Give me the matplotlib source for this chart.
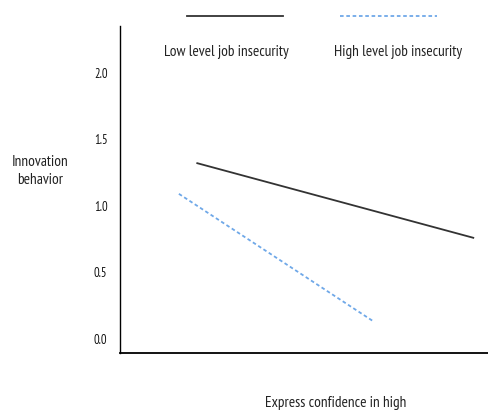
import matplotlib
matplotlib.use("Agg")
import matplotlib.pyplot as plt
from matplotlib.lines import Line2D

plt.rcParams['font.family'] = ['PT Sans Narrow', 'DejaVu Sans']

series_names = ["Low level job insecurity", "High level job insecurity"]
low_x = [0.21, 0.96]
low_y = [1.32, 0.76]
high_x = [0.16, 0.69]
high_y = [1.09, 0.13]
yticks = [0.0, 0.5, 1.0, 1.5, 2.0]
ytick_labels = ["0.0", "0.5", "1.0", "1.5", "2.0"]

fig = plt.figure(figsize=(4.88, 4.13), dpi=100)
ax = fig.add_axes([120/488, 1-353/413, 1-120/488, (353-26)/413])
ax.plot(low_x, low_y, color="#333333", lw=1.3)
ax.plot(high_x, high_y, color="#6fa8e8", lw=1.3, ls=(0, (2, 1.5)))
ax.set_xlim(0, 1)
ax.set_ylim(-0.105, 2.35)
ax.set_yticks(yticks)
ax.set_yticklabels(ytick_labels, fontsize=9)
ax.tick_params(axis='y', length=0, pad=9, labelcolor="#111111")
ax.set_xticks([])
for s in ["top", "right"]:
    ax.spines[s].set_visible(False)
ax.spines["left"].set_linewidth(1.0)
ax.spines["bottom"].set_linewidth(1.3)

# legend
fig.add_artist(Line2D([187/488, 283/488], [1-16/413, 1-16/413], color="#333333", lw=1.3))
fig.add_artist(Line2D([340/488, 437/488], [1-16/413, 1-16/413], color="#6fa8e8", lw=1.3, ls=(0, (2, 1.5))))
fig.text(226/488, 1-52/413, series_names[0], ha="center", va="center", fontsize=11, color="#222222")
fig.text(398/488, 1-52/413, series_names[1], ha="center", va="center", fontsize=11, color="#222222")

fig.text(40/488, 1-171/413, "Innovation\nbehavior", ha="center", va="center", fontsize=11, linespacing=1.45, color="#222222")
fig.text(336/488, 1-403/413, "Express confidence in high", ha="center", va="center", fontsize=11, color="#222222")

fig.savefig("out.png", dpi=100)
